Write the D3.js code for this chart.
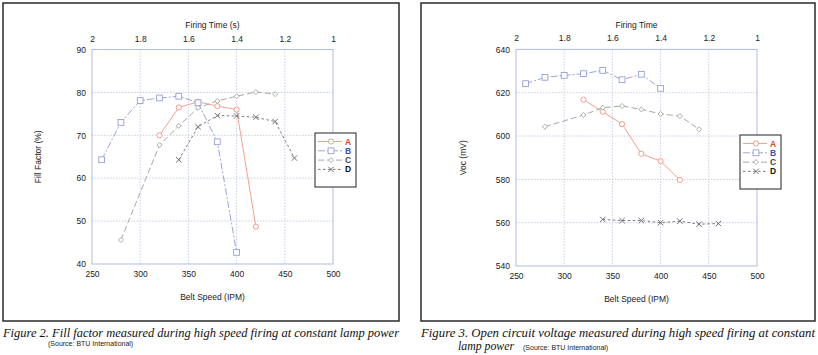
<!DOCTYPE html>
<html><head><meta charset="utf-8">
<script src="https://cdn.jsdelivr.net/npm/d3@7/dist/d3.min.js"></script>
<style>html,body{margin:0;padding:0;background:#fff;}svg{display:block;}</style>
</head><body>
<svg id="c" width="818" height="355"></svg>
<script>
// ---- data (Figure 2: Fill factor) ----
const ffSpeedA = [320, 340, 360, 380, 400, 420];
const ffA = [70.0, 76.5, 77.8, 76.8, 76.0, 48.7];
const ffSpeedB = [260, 280, 300, 320, 340, 360, 380, 400];
const ffB = [64.3, 73.0, 78.1, 78.7, 79.1, 77.6, 68.5, 42.7];
const ffSpeedC = [280, 320, 340, 360, 380, 400, 420, 440];
const ffC = [45.6, 67.7, 72.2, 76.4, 78.0, 79.1, 80.1, 79.6];
const ffSpeedD = [340, 360, 380, 400, 420, 440, 460];
const ffD = [64.3, 72.0, 74.6, 74.5, 74.2, 73.2, 64.7];
// ---- data (Figure 3: Voc) ----
const vocSpeedA = [320, 340, 360, 380, 400, 420];
const vocA = [616.8, 611.2, 605.5, 591.8, 588.4, 579.7];
const vocSpeedB = [260, 280, 300, 320, 340, 360, 380, 400];
const vocB = [624.2, 627.1, 628.0, 628.8, 630.3, 626.0, 628.5, 622.0];
const vocSpeedC = [280, 320, 340, 360, 380, 400, 420, 440];
const vocC = [604.3, 609.7, 613.1, 613.9, 612.3, 610.2, 609.2, 603.1];
const vocSpeedD = [340, 360, 380, 400, 420, 440, 460];
const vocD = [561.5, 561.0, 561.0, 560.0, 560.7, 559.3, 559.6];
// ---- ticks / labels ----
const speedTicks = [250, 300, 350, 400, 450, 500];
const firingTicks = [2, 1.8, 1.6, 1.4, 1.2, 1];
const ffTicks = [40, 50, 60, 70, 80, 90];
const vocTicks = [540, 560, 580, 600, 620, 640];
const seriesNames = ["A", "B", "C", "D"];

const svg = d3.select("#c");
const font = "Liberation Sans, Arial, sans-serif";
const serif = "Liberation Serif, Times New Roman, serif";
const styles = {
  A: {line: "#f3a08e", mark: "#f19380", dash: null, sym: "circle", text: "#e2452b"},
  B: {line: "#9ca4dc", mark: "#97a0d8", dash: "7,2,2,2", sym: "square", text: "#3b4fb4"},
  C: {line: "#a3aaa3", mark: "#9ea69e", dash: "6,3", sym: "diamond", text: "#444"},
  D: {line: "#7a7a7a", mark: "#6f6f6f", dash: "2.5,2.5", sym: "x", text: "#111"}
};

function marker(g, sym, cx, cy, color) {
  if (sym === "circle") g.append("circle").attr("cx", cx).attr("cy", cy).attr("r", 2.6).attr("fill", "#fff").attr("stroke", color).attr("stroke-width", 0.9);
  else if (sym === "square") g.append("rect").attr("x", cx - 2.9).attr("y", cy - 2.9).attr("width", 5.8).attr("height", 5.8).attr("fill", "#fff").attr("stroke", color).attr("stroke-width", 0.9);
  else if (sym === "diamond") g.append("path").attr("d", `M${cx},${cy-2.5}L${cx+2.5},${cy}L${cx},${cy+2.5}L${cx-2.5},${cy}Z`).attr("fill", "#fff").attr("stroke", color).attr("stroke-width", 0.9);
  else g.append("path").attr("d", `M${cx-2.7},${cy-2.7}L${cx+2.7},${cy+2.7}M${cx-2.7},${cy+2.7}L${cx+2.7},${cy-2.7}`).attr("stroke", color).attr("stroke-width", 1);
}

function panel(o) {
  const g = svg.append("g");
  g.append("rect").attr("x", o.frame[0]).attr("y", o.frame[1]).attr("width", o.frame[2] - o.frame[0]).attr("height", o.frame[3] - o.frame[1])
    .attr("fill", "#fff").attr("stroke", "#1a1a1a").attr("stroke-width", 1.4);
  const x = d3.scaleLinear().domain([250, 500]).range(o.xr);
  const xt = d3.scaleLinear().domain([2, 1]).range(o.xr);
  const y = d3.scaleLinear().domain(o.yd).range(o.yr);
  // grid
  g.append("g").selectAll("line").data(speedTicks.slice(1, -1)).join("line")
    .attr("x1", d => x(d)).attr("x2", d => x(d)).attr("y1", o.yr[1]).attr("y2", o.yr[0])
    .attr("stroke", "#b9c0e6").attr("stroke-width", 0.8).attr("stroke-dasharray", "1.5,1.5");
  g.append("g").selectAll("line").data(o.yTicks.slice(1, -1)).join("line")
    .attr("x1", o.xr[0]).attr("x2", o.xr[1]).attr("y1", d => y(d)).attr("y2", d => y(d))
    .attr("stroke", "#b9c0e6").attr("stroke-width", 0.8).attr("stroke-dasharray", "1.5,1.5");
  g.append("rect").attr("x", o.xr[0]).attr("y", o.yr[1]).attr("width", o.xr[1] - o.xr[0]).attr("height", o.yr[0] - o.yr[1])
    .attr("fill", "none").attr("stroke", "#b3bbe3").attr("stroke-width", 1);
  // axes
  const ax = (sel) => { sel.select(".domain").remove(); sel.selectAll("line").remove();
    sel.selectAll("text").attr("font-family", font).attr("font-size", 8.5).attr("fill", "#222"); };
  g.append("g").attr("transform", `translate(0,${o.yr[0] + 7})`).call(d3.axisBottom(x).tickValues(speedTicks).tickSize(0).tickPadding(0)).call(ax);
  g.append("g").attr("transform", `translate(0,${o.yr[1] - 8})`).call(d3.axisTop(xt).tickValues(firingTicks).tickSize(0).tickPadding(0).tickFormat(d3.format("~g"))).call(ax);
  g.append("g").attr("transform", `translate(${o.xr[0] - 6},0)`).call(d3.axisLeft(y).tickValues(o.yTicks).tickSize(0).tickPadding(0)).call(ax);
  const cx = (o.xr[0] + o.xr[1]) / 2, cy = (o.yr[0] + o.yr[1]) / 2;
  g.append("text").attr("x", cx).attr("y", o.yr[0] + 36).attr("text-anchor", "middle").attr("font-family", font).attr("font-size", 8.5).attr("fill", "#222").text("Belt Speed (IPM)");
  g.append("text").attr("x", cx).attr("y", 28).attr("text-anchor", "middle").attr("font-family", font).attr("font-size", 8.5).attr("fill", "#222").text(o.topTitle);
  g.append("text").attr("transform", `translate(${o.yLabX},${cy}) rotate(-90)`).attr("text-anchor", "middle").attr("font-family", font).attr("font-size", 8.5).attr("fill", "#222").text(o.yTitle);
  // series
  o.series.forEach((s, i) => {
    const st = styles[seriesNames[i]];
    const pts = s.xs.map((v, j) => [x(v), y(s.ys[j])]);
    g.append("path").attr("d", d3.line()(pts)).attr("fill", "none").attr("stroke", st.line).attr("stroke-width", 1)
      .attr("stroke-dasharray", st.dash);
    pts.forEach(p => marker(g, st.sym, p[0], p[1], st.mark));
  });
  // legend
  const L = o.legend;
  g.append("rect").attr("x", L[0]).attr("y", L[1]).attr("width", L[2]).attr("height", L[3]).attr("fill", "#fff").attr("stroke", "#222").attr("stroke-width", 1);
  seriesNames.forEach((n, i) => {
    const st = styles[n];
    const ly = L[1] + 8.5 + i * 9.3;
    g.append("line").attr("x1", L[0] + 3).attr("x2", L[0] + 27).attr("y1", ly).attr("y2", ly).attr("stroke", st.line).attr("stroke-width", 1).attr("stroke-dasharray", st.dash);
    marker(g, st.sym, L[0] + 16, ly, st.mark);
    g.append("text").attr("x", L[0] + 30).attr("y", ly + 3).attr("font-family", font).attr("font-size", 8.5).attr("font-weight", "bold").attr("fill", st.text).text(n);
  });
  // caption
  o.captions.forEach(c => {
    const t = g.append("text").attr("x", c.x).attr("y", c.y).attr("font-family", serif).attr("font-style", "italic").attr("font-size", 11.8).attr("fill", "#111");
    if (c.len) t.attr("textLength", c.len).attr("lengthAdjust", "spacingAndGlyphs");
    t.text(c.t);
  });
  g.append("text").attr("x", o.source[0]).attr("y", o.source[1]).attr("font-family", font).attr("font-size", 7).attr("fill", "#222").text("(Source: BTU International)");
}

panel({
  frame: [3, 3, 399, 321], xr: [92, 333], yd: [40, 90], yr: [264, 49.5], yTicks: ffTicks,
  topTitle: "Firing Time (s)", yTitle: "Fill Factor (%)", yLabX: 41,
  series: [{xs: ffSpeedA, ys: ffA}, {xs: ffSpeedB, ys: ffB}, {xs: ffSpeedC, ys: ffC}, {xs: ffSpeedD, ys: ffD}],
  legend: [315, 133, 41, 54],
  captions: [{x: 3, y: 337, t: "Figure 2. Fill factor measured during high speed firing at constant lamp power", len: 396}],
  source: [48, 346]
});
panel({
  frame: [421, 3, 815, 321], xr: [516, 757], yd: [540, 640], yr: [266, 49.4], yTicks: vocTicks,
  topTitle: "Firing Time", yTitle: "Voc (mV)", yLabX: 466,
  series: [{xs: vocSpeedA, ys: vocA}, {xs: vocSpeedB, ys: vocB}, {xs: vocSpeedC, ys: vocC}, {xs: vocSpeedD, ys: vocD}],
  legend: [740, 135, 41, 54],
  captions: [{x: 421, y: 337, t: "Figure 3. Open circuit voltage measured during high speed firing at constant", len: 394},
             {x: 458, y: 349.5, t: "lamp power"}],
  source: [523, 349.5]
});
</script>
</body></html>
